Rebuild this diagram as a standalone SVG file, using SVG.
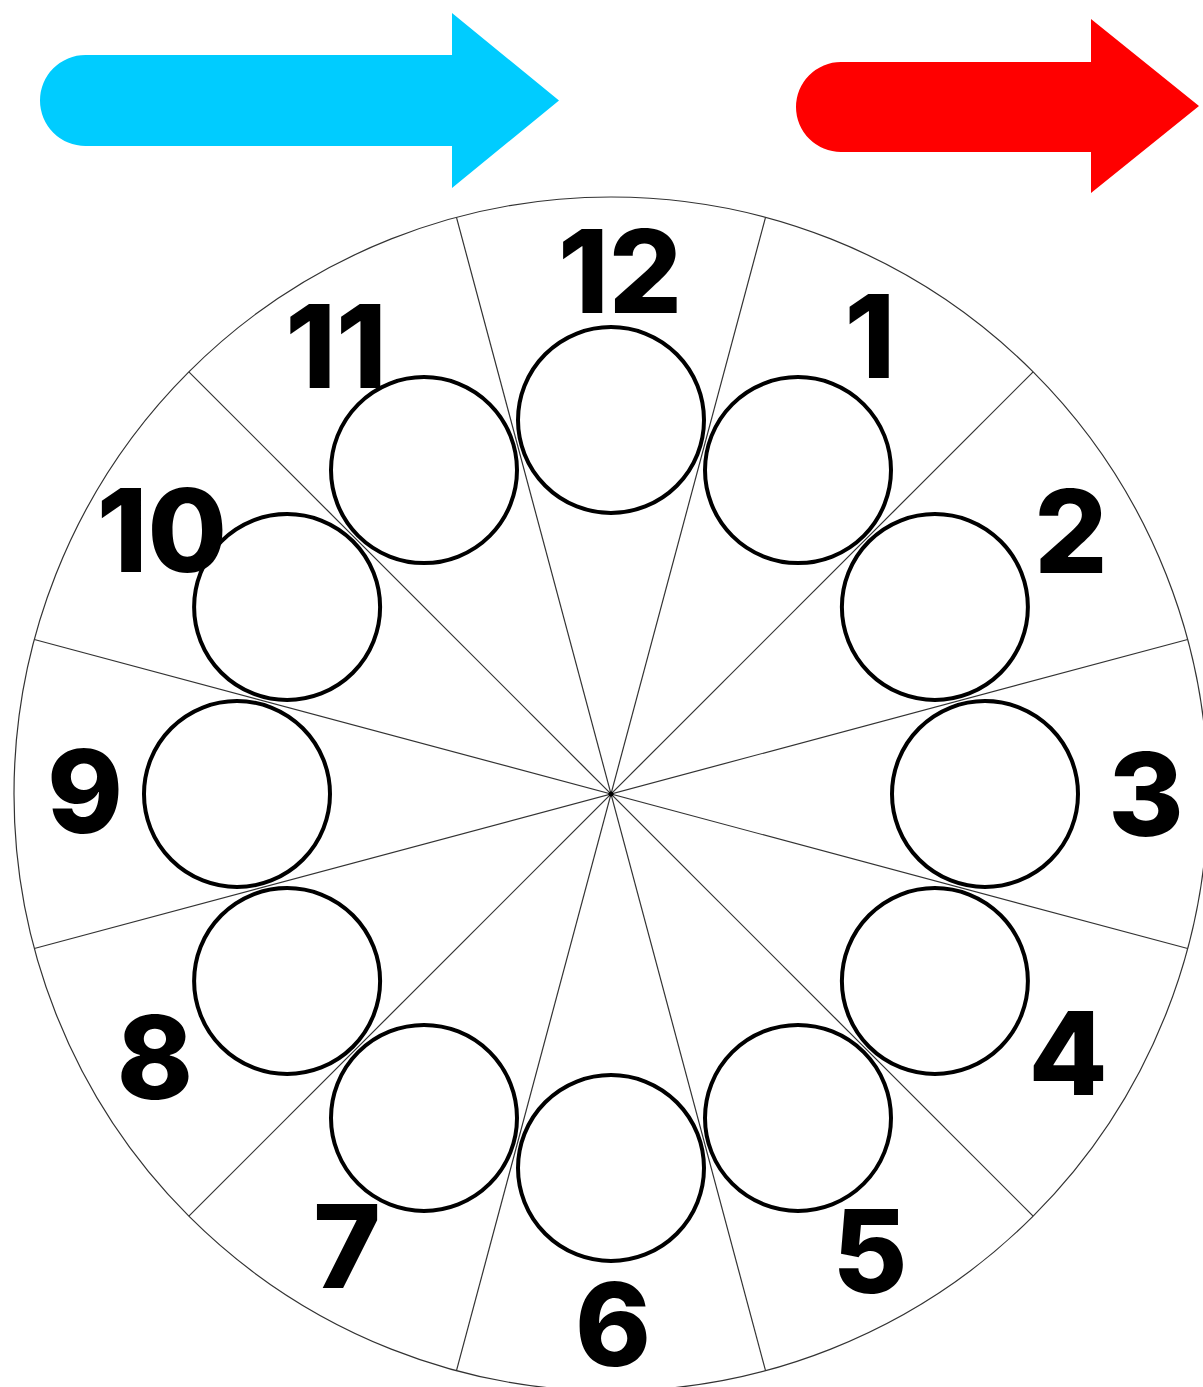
<svg xmlns="http://www.w3.org/2000/svg" width="1203" height="1387" viewBox="0 0 1203 1387">
<style>
.spoke{stroke:#333;stroke-width:1.2;fill:none}
.rim{stroke:#333;stroke-width:1.2;fill:#fff}
.seat{stroke:#000;stroke-width:4;fill:none}
.num{font-family:Inter,"Liberation Sans",Arial,sans-serif;font-weight:800;font-size:115px;fill:#000;text-anchor:middle}
</style>
<rect width="1203" height="1387" fill="#fff"/>
<g id="arrow-cyan"><path d="M85.5 55 H452 V13 L559 100.5 L452 188 V146 H85.5 A45.5 45.5 0 0 1 85.5 55 Z" fill="#00CCFF"/></g>
<g id="arrow-red"><path d="M841 62 H1091 V19 L1199 106 L1091 193 V152 H841 A45 45 0 0 1 841 62 Z" fill="#FF0000"/></g>
<g id="dial">
<circle class="rim" cx="611" cy="794" r="597"/>
</g>
<g id="spokes">
<line class="spoke" x1="765.52" y1="217.34" x2="456.48" y2="1370.66"/>
<line class="spoke" x1="1033.14" y1="371.86" x2="188.86" y2="1216.14"/>
<line class="spoke" x1="1187.66" y1="639.48" x2="34.34" y2="948.52"/>
<line class="spoke" x1="1187.66" y1="948.52" x2="34.34" y2="639.48"/>
<line class="spoke" x1="1033.14" y1="1216.14" x2="188.86" y2="371.86"/>
<line class="spoke" x1="765.52" y1="1370.66" x2="456.48" y2="217.34"/>
<circle cx="611" cy="794" r="2.5" fill="#000"/>
</g>
<g id="seat-12"><circle class="seat" cx="611" cy="420" r="93"/><text class="num" x="620" y="313">12</text></g>
<g id="seat-1"><circle class="seat" cx="798" cy="470.11" r="93"/><text class="num" x="870" y="378">1</text></g>
<g id="seat-2"><circle class="seat" cx="934.89" cy="607" r="93"/><text class="num" x="1071" y="573">2</text></g>
<g id="seat-3"><circle class="seat" cx="985" cy="794" r="93"/><text class="num" x="1146" y="836">3</text></g>
<g id="seat-4"><circle class="seat" cx="934.89" cy="981" r="93"/><text class="num" x="1068" y="1095">4</text></g>
<g id="seat-5"><circle class="seat" cx="798" cy="1117.89" r="93"/><text class="num" x="870" y="1293">5</text></g>
<g id="seat-6"><circle class="seat" cx="611" cy="1168" r="93"/><text class="num" x="613" y="1366">6</text></g>
<g id="seat-7"><circle class="seat" cx="424" cy="1117.89" r="93"/><text class="num" x="347" y="1288">7</text></g>
<g id="seat-8"><circle class="seat" cx="287.11" cy="981" r="93"/><text class="num" x="155" y="1099">8</text></g>
<g id="seat-9"><circle class="seat" cx="237" cy="794" r="93"/><text class="num" x="85" y="833">9</text></g>
<g id="seat-10"><circle class="seat" cx="287.11" cy="607" r="93"/><text class="num" x="162" y="572">10</text></g>
<g id="seat-11"><circle class="seat" cx="424" cy="470.11" r="93"/><text class="num" x="336" y="388">11</text></g>
</svg>
